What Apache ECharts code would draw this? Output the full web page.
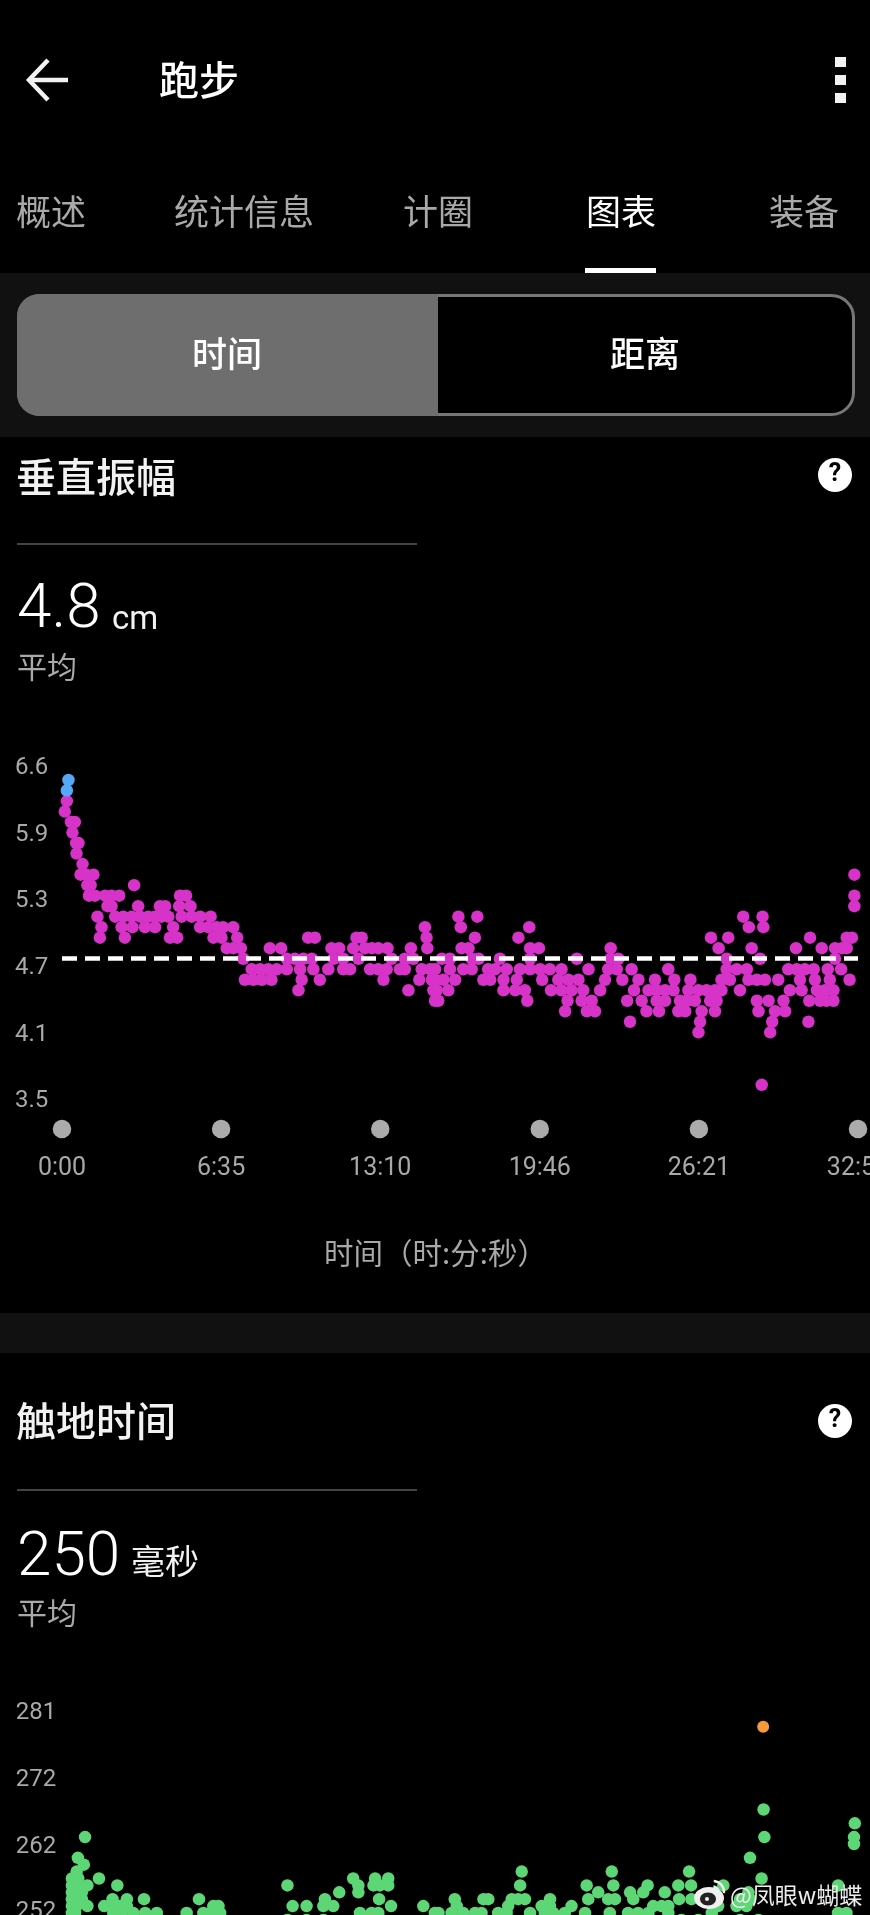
<!DOCTYPE html>
<html>
<head>
<meta charset="utf-8">
<style>html,body{margin:0;padding:0;background:#000;overflow:hidden}#c{width:870px;height:1915px}</style>
<script src="https://cdn.jsdelivr.net/npm/echarts@6/dist/echarts.min.js"></script>
</head>
<body>
<div id="c"></div>
<script>
// ---- shared x axis (seconds)
const timeTicks = [0, 395, 790, 1186, 1581, 1976];
const timeLabels = ['0:00', '6:35', '13:10', '19:46', '26:21', '32:56'];

// ---- vertical oscillation (cm): [value, [seconds...]]
const voAverage = 4.8;
const voAxisMin = 3.18;
const voTicks = [3.449, 4.077, 4.714, 5.352, 5.98, 6.617];
const voTickLabels = ['3.5', '4.1', '4.7', '5.3', '5.9', '6.6'];
const voHigh = [[6.5, [16]], [6.4, [12]]];
const voRows = [
  [6.3, [12]],
  [6.2, [7]],
  [6.1, [22, 32]],
  [6.0, [26]],
  [5.9, [35, 41]],
  [5.8, [36]],
  [5.7, [51]],
  [5.6, [46, 60, 78, 1967]],
  [5.5, [63, 71, 179]],
  [5.4, [67, 82, 107, 123, 142, 293, 308, 1967]],
  [5.3, [113, 123, 189, 243, 256, 291, 319, 1967]],
  [5.2, [88, 132, 152, 173, 194, 214, 231, 247, 264, 297, 322, 343, 369, 984, 1031, 1691, 1739]],
  [5.1, [98, 148, 175, 206, 231, 276, 343, 363, 384, 400, 425, 901, 990, 1160, 1705, 1741]],
  [5.0, [94, 156, 268, 286, 376, 396, 435, 611, 628, 731, 744, 905, 1025, 1133, 1611, 1654, 1857, 1948, 1961]],
  [4.9, [409, 425, 444, 516, 544, 669, 688, 723, 752, 769, 785, 808, 866, 907, 992, 1009, 1162, 1184, 1362, 1630, 1712, 1822, 1886, 1919, 1936, 1948]],
  [4.8, [450, 558, 578, 599, 620, 674, 698, 736, 818, 851, 872, 943, 963, 1017, 1034, 1087, 1162, 1278, 1362, 1381, 1650, 1733, 1919]],
  [4.7, [471, 492, 512, 533, 558, 591, 624, 661, 698, 715, 765, 785, 806, 839, 851, 893, 914, 926, 963, 996, 1017, 1058, 1075, 1104, 1137, 1162, 1187, 1211, 1240, 1307, 1356, 1377, 1414, 1505, 1650, 1675, 1700, 1803, 1824, 1844, 1866, 1901, 1934]],
  [4.6, [454, 475, 496, 520, 595, 640, 798, 887, 918, 926, 947, 976, 1046, 1063, 1096, 1129, 1192, 1232, 1257, 1282, 1348, 1391, 1431, 1472, 1520, 1560, 1637, 1658, 1704, 1725, 1745, 1778, 1832, 1869, 1906, 1955]],
  [4.5, [587, 860, 922, 930, 959, 1096, 1125, 1149, 1214, 1240, 1265, 1294, 1336, 1420, 1456, 1476, 1497, 1518, 1555, 1580, 1600, 1621, 1637, 1683, 1807, 1836, 1874, 1894, 1915]],
  [4.4, [926, 934, 1155, 1255, 1290, 1315, 1403, 1439, 1476, 1497, 1534, 1551, 1571, 1609, 1625, 1725, 1754, 1791, 1855, 1882, 1898, 1915]],
  [4.3, [1249, 1303, 1323, 1451, 1482, 1530, 1547, 1588, 1621, 1729, 1770, 1795]],
  [4.2, [1410, 1584, 1763, 1853]],
  [4.1, [1580, 1758]],
  [3.6, [1737]]
];

// ---- ground contact time (ms): [value, [seconds...]]
const gctTicks = [253.1, 262.6, 272.25, 282.05];
const gctTickLabels = ['252', '262', '272', '281'];
const gctHigh = [[280, [1738]]];
const gctRows = [
  [268, [1739]],
  [266, [1968]],
  [264, [36, 1741, 1966]],
  [263, [1966]],
  [261, [18, 1705]],
  [260, [33]],
  [259, [15, 1132, 1358, 1552]],
  [258, [3, 19, 71, 709, 764, 797, 1734]],
  [257, [3, 7, 23, 42, 117, 544, 722, 760, 776, 797, 1128, 1295, 1362, 1448, 1525, 1557, 1638, 1926]],
  [256, [3, 11, 28, 674, 722, 1324, 1404, 1437, 1491, 1701]],
  [255, [3, 11, 28, 105, 141, 184, 322, 638, 774, 964, 1036, 1048, 1107, 1123, 1140, 1203, 1299, 1349, 1366, 1412, 1527, 1558, 1680, 1705]],
  [254, [3, 15, 42, 84, 107, 124, 141, 358, 371, 557, 592, 634, 659, 804, 885, 969, 1098, 1182, 1203, 1257, 1462, 1483, 1500, 1625, 1671, 1696]],
  [253, [3, 11, 107, 128, 157, 187, 216, 291, 333, 350, 375, 726, 755, 772, 914, 923, 956, 985, 1015, 1031, 1073, 1094, 1153, 1190, 1211, 1240, 1291, 1353, 1399, 1424, 1450, 1500, 1609, 1926, 1947]],
  [252, [3, 544, 592, 634, 1533, 1575, 1680, 1726]]
];

const flatten = rows => rows.flatMap(([v, ts]) => ts.map(t => [t, v]));

const CJK = '"Noto Sans CJK SC","Noto Sans",sans-serif';
const NUM = 'Roboto,"Noto Sans",sans-serif';
const GREY = '#a9a9a9';
const txt = (text, x, y, size, fill, align, family, weight) => ({
  type: 'text', x, y, z: 50,
  style: { text, fill, font: (weight || 'normal') + ' ' + size + 'px ' + (family || CJK), textAlign: align || 'left', textVerticalAlign: 'middle' }
});
const rect = (x, y, width, height, fill, r) => ({ type: 'rect', z: 1, shape: { x, y, width, height, r: r || 0 }, style: { fill } });
const help = y => [
  { type: 'circle', z: 10, shape: { cx: 835, cy: y, r: 17 }, style: { fill: '#fff' } },
  txt('?', 835, y, 25, '#000', 'center', NUM, 'bold')
];

const yAxisCommon = { type: 'value', axisLine: { show: false }, axisTick: { show: false }, splitLine: { show: false } };
const xAxisCommon = { type: 'value', min: 0, max: timeTicks[5], axisLine: { show: false }, axisTick: { show: false }, splitLine: { show: false } };

const chart = echarts.init(document.getElementById('c'), null, { width: 870, height: 1915 });
chart.setOption({
  animation: false,
  backgroundColor: '#000',
  grid: [
    { left: 62, width: 796, top: 759, height: 370, outerBoundsMode: 'none' },
    { left: 70.7, width: 787.3, top: 1706, height: 434.7, outerBoundsMode: 'none' }
  ],
  xAxis: [
    Object.assign({}, xAxisCommon, {
      gridIndex: 0,
      axisLabel: {
        customValues: timeTicks, formatter: v => timeLabels[timeTicks.indexOf(v)],
        color: GREY, fontFamily: NUM, fontSize: 25, margin: 27, hideOverlap: false
      }
    }),
    Object.assign({}, xAxisCommon, { gridIndex: 1, axisLabel: { show: false } })
  ],
  yAxis: [
    Object.assign({}, yAxisCommon, {
      gridIndex: 0, min: voAxisMin, max: 6.7,
      axisLabel: {
        customValues: voTicks, formatter: v => voTickLabels[voTicks.indexOf(v)],
        color: GREY, fontFamily: NUM, fontSize: 24, align: 'left', margin: 47
      }
    }),
    Object.assign({}, yAxisCommon, {
      gridIndex: 1, min: 220, max: 283,
      axisLabel: {
        customValues: gctTicks, formatter: v => gctTickLabels[gctTicks.indexOf(v)],
        color: GREY, fontFamily: NUM, fontSize: 24, align: 'left', margin: 55
      }
    })
  ],
  series: [
    {
      type: 'scatter', xAxisIndex: 0, yAxisIndex: 0, clip: false, symbolSize: 18.5,
      itemStyle: { color: '#ababab', opacity: 1 }, silent: true,
      data: timeTicks.map(t => [t, voAxisMin])
    },
    {
      type: 'scatter', xAxisIndex: 0, yAxisIndex: 0, clip: true, symbolSize: 12.5, z: 3,
      itemStyle: { color: '#d733c8', opacity: 1 }, data: flatten(voRows),
      markLine: {
        silent: true, symbol: 'none', z: 5, label: { show: false },
        lineStyle: { color: '#fff', width: 4.5, type: [15, 8], opacity: 1 },
        emphasis: { disabled: true },
        data: [{ yAxis: voAverage }]
      }
    },
    {
      type: 'scatter', xAxisIndex: 0, yAxisIndex: 0, clip: true, symbolSize: 12.5, z: 4,
      itemStyle: { color: '#55a8f5', opacity: 1 }, data: flatten(voHigh)
    },
    {
      type: 'scatter', xAxisIndex: 1, yAxisIndex: 1, clip: true, symbolSize: 12.5, z: 3,
      itemStyle: { color: '#5dd675', opacity: 1 }, data: flatten(gctRows)
    },
    {
      type: 'scatter', xAxisIndex: 1, yAxisIndex: 1, clip: true, symbolSize: 12, z: 4,
      itemStyle: { color: '#f79a3c', opacity: 1 }, data: flatten(gctHigh)
    }
  ],
  graphic: { elements: [
    // top bar
    { type: 'polyline', z: 10, shape: { points: [[48, 60], [29, 80], [48, 100]] }, style: { stroke: '#f2f2f2', fill: 'none', lineWidth: 4.5 } },
    { type: 'line', z: 10, shape: { x1: 30, y1: 80, x2: 68, y2: 80 }, style: { stroke: '#f2f2f2', lineWidth: 4.5 } },
    txt('跑步', 159, 80, 40, '#fff', 'left', CJK, '500'),
    rect(835, 57, 11, 10, '#f2f2f2'), rect(835, 75, 11, 10, '#f2f2f2'), rect(835, 93, 11, 10, '#f2f2f2'),
    // tabs
    txt('概述', 16, 212, 35, GREY), txt('统计信息', 174, 212, 35, GREY), txt('计圈', 403, 212, 35, GREY),
    txt('图表', 586, 212, 35, '#fff'), txt('装备', 769, 212, 35, GREY),
    rect(0, 273, 870, 164, '#111'),
    rect(585, 268, 71, 5, '#fff'),
    // segmented control
    { type: 'rect', z: 2, shape: { x: 18.5, y: 295.5, width: 835, height: 119, r: 22 }, style: { fill: '#000', stroke: '#777', lineWidth: 3 } },
    { type: 'rect', z: 3, shape: { x: 17, y: 294, width: 421, height: 122, r: [22, 0, 0, 22] }, style: { fill: '#6e6e6e' } },
    txt('时间', 227, 354, 35, '#fff', 'center', CJK, '500'), txt('距离', 645, 354, 35, '#fff', 'center', CJK, '500'),
    // vertical oscillation header
    txt('垂直振幅', 16, 477, 40, '#f2f2f2', 'left', CJK, '500'),
    ...help(475),
    rect(17, 543, 400, 2, '#444'),
    txt('4.8', 17, 611, 62, '#fff', 'left', NUM, '300'),
    txt('cm', 112, 621, 33, '#f2f2f2', 'left', NUM),
    txt('平均', 17, 667, 30, GREY),
    txt('时间（时:分:秒）', 324, 1253, 29.5, GREY, 'left'),
    // separator
    rect(0, 1313, 870, 40, '#111'),
    // ground contact header
    txt('触地时间', 16, 1421, 40, '#f2f2f2', 'left', CJK, '500'),
    ...help(1421),
    rect(17, 1489, 400, 2, '#444'),
    txt('250', 17, 1559, 62, '#fff', 'left', NUM, '300'),
    txt('毫秒', 131, 1561, 34, '#f2f2f2'),
    txt('平均', 17, 1613, 30, GREY),
    // watermark
    { type: 'ellipse', z: 60, shape: { cx: 709, cy: 1898, rx: 15, ry: 11 }, style: { fill: '#f0f0f0' } },
    { type: 'ellipse', z: 61, shape: { cx: 708, cy: 1899, rx: 8, ry: 6.5 }, style: { fill: '#222' } },
    { type: 'circle', z: 62, shape: { cx: 707, cy: 1899, r: 2 }, style: { fill: '#f0f0f0' } },
    { type: 'arc', z: 60, shape: { cx: 713, cy: 1892, r: 11, startAngle: -1.5, endAngle: 0.1 }, style: { stroke: '#f0f0f0', lineWidth: 2.5, fill: 'none' } },
    { type: 'arc', z: 60, shape: { cx: 713, cy: 1892, r: 5.5, startAngle: -1.5, endAngle: 0.1 }, style: { stroke: '#f0f0f0', lineWidth: 2.5, fill: 'none' } },
    { type: 'text', x: 730, y: 1895, z: 60, style: { text: '@凤眼w蝴蝶', fill: '#eee', font: '23px ' + CJK, textAlign: 'left', textVerticalAlign: 'middle', shadowBlur: 3, shadowColor: '#000' } }
  ] }
});
</script>
</body>
</html>
